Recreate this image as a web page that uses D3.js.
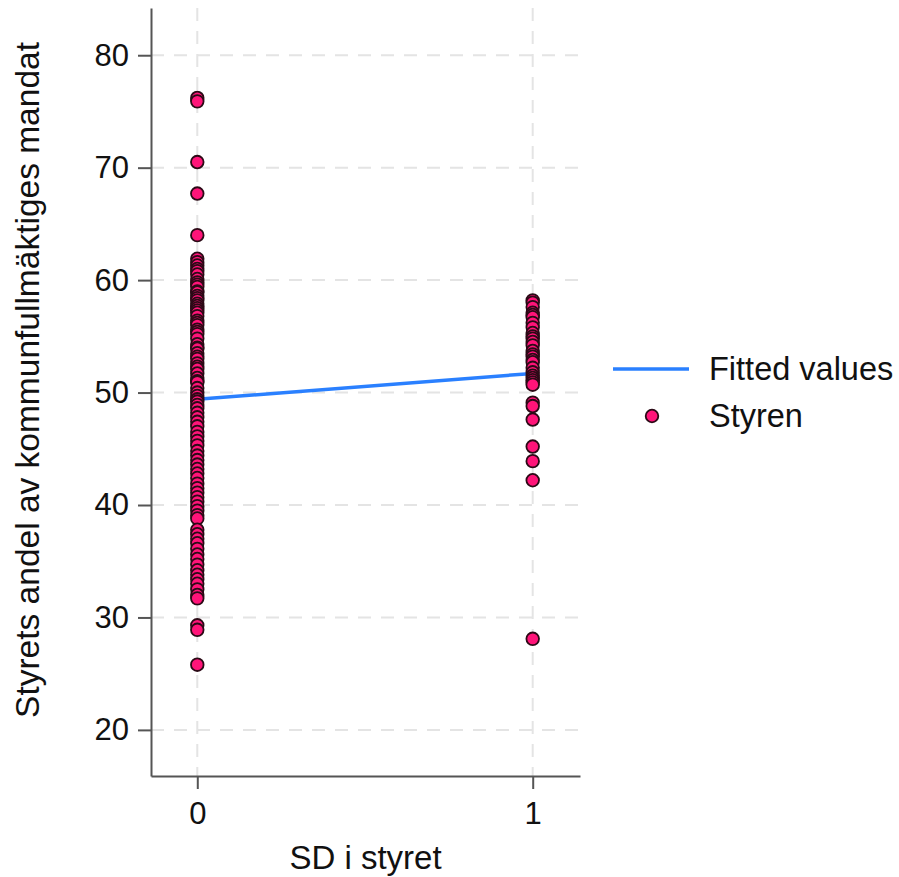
<!DOCTYPE html>
<html>
<head>
<meta charset="utf-8">
<script src="https://cdn.jsdelivr.net/npm/d3@7"></script>
<style>
  html, body { margin: 0; padding: 0; background: #fff; }
  svg { display: block; }
  text { font-family: "Liberation Sans", Arial, sans-serif; fill: #111; }
</style>
</head>
<body>
<svg id="chart" width="899" height="877"></svg>
<script>
// ---- data ----
const xTicks = [0, 1];
const yTicks = [20, 30, 40, 50, 60, 70, 80];
const xLabel = "SD i styret";
const yLabel = "Styrets andel av kommunfullmäktiges mandat";
const legendLabels = ["Fitted values", "Styren"];

const styrenSD0 = [
  76.2, 75.9, 70.5, 67.7, 64.0,
  61.9, 61.6, 61.3, 61.0, 60.8, 60.5, 60.1, 59.8, 59.6, 59.4, 59.0, 58.9, 58.6, 58.4,
  58.2, 57.9, 57.7, 57.5, 57.3, 57.1, 56.8, 56.4, 56.2, 56.0, 55.6, 55.4, 55.2, 54.8,
  54.3, 54.0, 53.9, 53.5, 53.2, 53.0, 52.6, 52.3, 52.1, 51.7, 51.3, 51.0, 50.9, 50.4,
  50.0, 49.7, 49.4, 49.2, 48.9, 48.6, 48.2, 47.8, 47.4, 47.0, 46.5, 46.1, 45.7, 45.3,
  44.8, 44.4, 44.0, 43.6, 43.2, 42.8, 42.4, 41.9, 41.5, 41.1, 40.7, 40.3, 39.9, 39.5,
  39.1, 38.8,
  37.8, 37.4, 37.0, 36.6, 36.1, 35.6, 35.2, 34.7, 34.2, 33.8, 33.4, 33.0, 32.5, 32.0, 31.7,
  29.3, 28.9, 25.8
];
const styrenSD1 = [
  58.2, 58.0, 57.6, 57.1, 56.9, 56.7, 56.2, 55.8, 55.3, 55.0, 54.8, 54.5, 54.2, 53.7,
  53.4, 53.2, 52.9, 52.7, 52.2, 51.8, 51.5, 51.3, 51.1, 50.9, 50.7,
  49.1, 48.8, 47.6, 45.2, 43.9, 42.2, 28.1
];
const fittedX = [0, 1];
const fittedY = [49.4, 51.7];

// ---- layout ----
const plot = { left: 151, right: 580, top: 8, bottom: 776 };
const colors = { point: "#ff1479", pointStroke: "#2b0a16", line: "#2a80ff", grid: "#e4e4e4", axis: "#555" };
const ptR = 6.3, ptSW = 1.8;

const svg = d3.select("#chart");

const x = d3.scaleLinear().domain([-0.138, 1.141]).range([plot.left, plot.right]);
const y = d3.scaleLinear().domain([15.9, 84.2]).range([plot.bottom, plot.top]);

// grid
const grid = svg.append("g");
grid.selectAll("line.h").data(yTicks).join("line")
  .attr("x1", plot.left).attr("x2", plot.right)
  .attr("y1", d => y(d)).attr("y2", d => y(d))
  .attr("stroke", colors.grid).attr("stroke-width", 2).attr("stroke-dasharray", "13,10");
grid.selectAll("line.v").data(xTicks).join("line")
  .attr("y1", plot.top).attr("y2", plot.bottom)
  .attr("x1", d => x(d)).attr("x2", d => x(d))
  .attr("stroke", colors.grid).attr("stroke-width", 2).attr("stroke-dasharray", "13,10");

// axes
const yAxis = svg.append("g").attr("transform", `translate(${plot.left},0)`)
  .call(d3.axisLeft(y).tickValues(yTicks).tickFormat(d3.format("d")).tickSize(13).tickSizeOuter(0).tickPadding(9));
const xAxis = svg.append("g").attr("transform", `translate(0,${plot.bottom})`)
  .call(d3.axisBottom(x).tickValues(xTicks).tickFormat(d3.format("d")).tickSize(13).tickSizeOuter(0).tickPadding(13));
[yAxis, xAxis].forEach(a => {
  a.select(".domain").attr("stroke", colors.axis).attr("stroke-width", 2);
  a.selectAll(".tick line").attr("stroke", colors.axis).attr("stroke-width", 2);
  a.selectAll(".tick text").attr("font-size", 31).attr("fill", "#111")
    .attr("font-family", "Liberation Sans, Arial, sans-serif");
});

// fitted line
svg.append("path")
  .datum(fittedX.map((d, i) => [d, fittedY[i]]))
  .attr("fill", "none").attr("stroke", colors.line).attr("stroke-width", 3.5)
  .attr("d", d3.line().x(d => x(d[0])).y(d => y(d[1])));

// points
const pts = styrenSD0.map(v => [0, v]).concat(styrenSD1.map(v => [1, v]));
svg.append("g").selectAll("circle").data(pts).join("circle")
  .attr("cx", d => x(d[0])).attr("cy", d => y(d[1])).attr("r", ptR)
  .attr("fill", colors.point).attr("stroke", colors.pointStroke).attr("stroke-width", ptSW);

// axis titles
svg.append("text").attr("x", (plot.left + plot.right) / 2).attr("y", 869)
  .attr("text-anchor", "middle").attr("font-size", 33).text(xLabel);
svg.append("text").attr("transform", `translate(39,380) rotate(-90)`)
  .attr("text-anchor", "middle").attr("font-size", 33.5).text(yLabel);

// legend
const lg = svg.append("g");
lg.append("line").attr("x1", 613).attr("x2", 689).attr("y1", 369).attr("y2", 369)
  .attr("stroke", colors.line).attr("stroke-width", 3.5);
lg.append("circle").attr("cx", 652).attr("cy", 416).attr("r", ptR)
  .attr("fill", colors.point).attr("stroke", colors.pointStroke).attr("stroke-width", ptSW);
lg.selectAll("text").data(legendLabels).join("text")
  .attr("x", 709).attr("y", (d, i) => 380 + i * 47).attr("font-size", 32.5).text(d => d);
</script>
</body>
</html>
